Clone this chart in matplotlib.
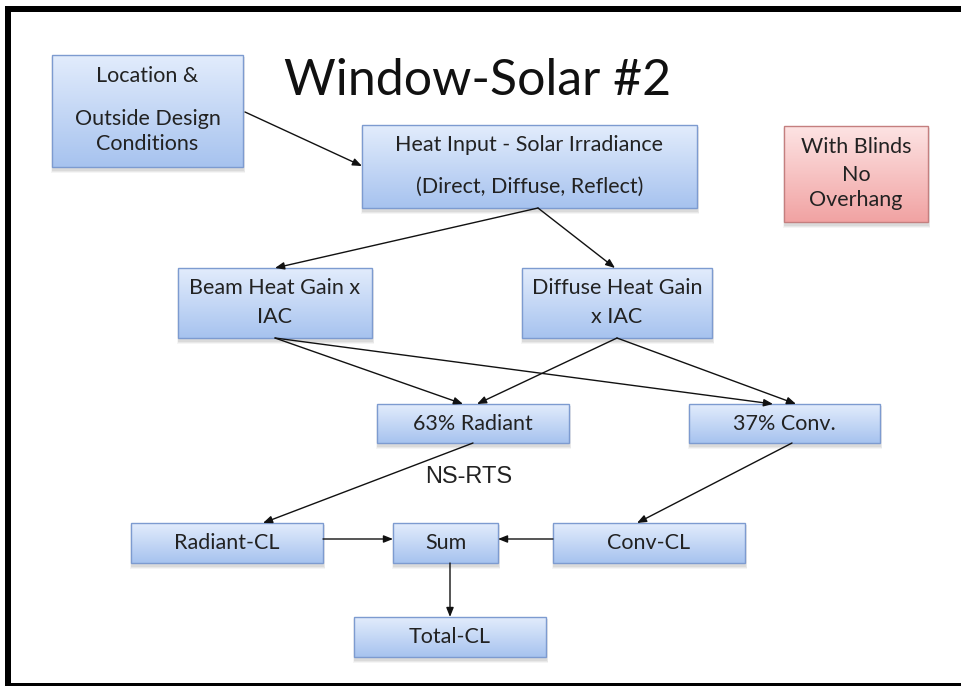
import matplotlib
matplotlib.use("Agg")
import matplotlib.pyplot as plt
import numpy as np
from matplotlib.patches import Rectangle
from matplotlib.colors import to_rgb

# ---- content ----
title = "Window-Solar #2"
node_names = ["loc", "heat", "beam", "diff", "blinds", "rad", "conv",
              "radcl", "sum", "convcl", "total"]
node_labels = [
    ["Location &", "Outside Design", "Conditions"],
    ["Heat Input - Solar Irradiance", "(Direct, Diffuse, Reflect)"],
    ["Beam Heat Gain x", "IAC"],
    ["Diffuse Heat Gain", "x IAC"],
    ["With Blinds", "No", "Overhang"],
    ["63% Radiant"],
    ["37% Conv."],
    ["Radiant-CL"],
    ["Sum"],
    ["Conv-CL"],
    ["Total-CL"],
]
edge_label = "NS-RTS"

# ---- layout (pixel coordinates, y down) ----
boxes = {  # x0, y0, x1, y1
    "loc": (52, 55, 243, 167),
    "heat": (362, 125, 697, 208),
    "beam": (178, 268, 372, 338),
    "diff": (522, 268, 712, 338),
    "blinds": (784, 126, 928, 222),
    "rad": (377, 404, 569, 443),
    "conv": (689, 404, 880, 443),
    "radcl": (131, 523, 323, 563),
    "sum": (393, 523, 498, 563),
    "convcl": (553, 523, 745, 563),
    "total": (354, 617, 546, 657),
}
line_y = {
    "loc": [76, 119, 144],
    "heat": [145, 187],
    "beam": [288, 317],
    "diff": [288, 317],
    "blinds": [147, 175, 200],
}
arrows = [  # (start, end)
    ((245, 112), (362, 166)),
    ((538, 208), (275, 268)),
    ((538, 208), (615, 268)),
    ((275, 338), (463, 404)),
    ((275, 338), (773, 404)),
    ((617, 338), (477, 404)),
    ((617, 338), (796, 404)),
    ((473, 443), (263, 523)),
    ((792, 443), (637, 523)),
    ((323, 539), (393, 539)),
    ((553, 539), (498, 539)),
    ((450, 563), (450, 617)),
]

W, H = 962, 686
fig = plt.figure(figsize=(W / 100, H / 100), dpi=100)
ax = fig.add_axes([0, 0, 1, 1])
ax.set_xlim(0, W)
ax.set_ylim(H, 0)
ax.axis("off")

blue_top, blue_bot, blue_edge = "#e2ecfc", "#a7c3ef", "#7d9bd0"
pink_top, pink_bot, pink_edge = "#fde3e3", "#f1a3a3", "#c47f7f"


def gradient_box(x0, y0, x1, y1, ctop, cbot, cedge):
    # soft shadow
    for k, a in enumerate([0.06, 0.05, 0.04]):
        d = 1 + k
        ax.add_patch(Rectangle((x0 + 1 - d * 0.5, y0 + 2), (x1 - x0) + d, (y1 - y0) + d + 1,
                               facecolor="black", edgecolor="none", alpha=a, zorder=1))
    n = 64
    t = np.linspace(0, 1, n)[:, None]
    c0 = np.array(to_rgb(ctop))
    c1 = np.array(to_rgb(cbot))
    grad = (1 - t)[:, :, None] * c0 + t[:, :, None] * c1
    grad = np.repeat(grad, 2, axis=1)
    rect = Rectangle((x0, y0), x1 - x0, y1 - y0, facecolor="none",
                     edgecolor=cedge, lw=1.0, zorder=3)
    im = ax.imshow(grad, extent=(x0, x1, y1, y0), origin="upper",
                   aspect="auto", zorder=2, interpolation="bilinear")
    ax.add_patch(rect)
    im.set_clip_path(rect)


txt_font = ["Lato", "DejaVu Sans"]
for name, lines in zip(node_names, node_labels):
    x0, y0, x1, y1 = boxes[name]
    if name == "blinds":
        gradient_box(x0, y0, x1, y1, pink_top, pink_bot, pink_edge)
    else:
        gradient_box(x0, y0, x1, y1, blue_top, blue_bot, blue_edge)
    cx = (x0 + x1) / 2
    ys = line_y.get(name, [(y0 + y1) / 2])
    for s, y in zip(lines, ys):
        ax.text(cx, y, s, ha="center", va="center", fontsize=15.5,
                family=txt_font, color="#222222", zorder=5)

for (sx, sy), (ex, ey) in arrows:
    ax.annotate("", xy=(ex, ey), xytext=(sx, sy),
                arrowprops=dict(arrowstyle="-|>,head_length=0.55,head_width=0.22",
                                color="#111111", lw=1.0,
                                shrinkA=0, shrinkB=0),
                zorder=4)

ax.text(469, 477, edge_label, ha="center", va="center", fontsize=17,
        family=["Liberation Sans", "DejaVu Sans"], color="#222222", zorder=5)

ax.text(478, 95, title, ha="center", va="baseline", fontsize=36,
        family=txt_font, color="#111111", zorder=5)

# frame (top, left, bottom)
ax.add_patch(Rectangle((5, 6), W, 6, facecolor="black", edgecolor="none", zorder=6))
ax.add_patch(Rectangle((5, 6), 6, H, facecolor="black", edgecolor="none", zorder=6))
ax.add_patch(Rectangle((5, 683), W, 5, facecolor="black", edgecolor="none", zorder=6))

fig.savefig("out.png", dpi=100, facecolor="white")
